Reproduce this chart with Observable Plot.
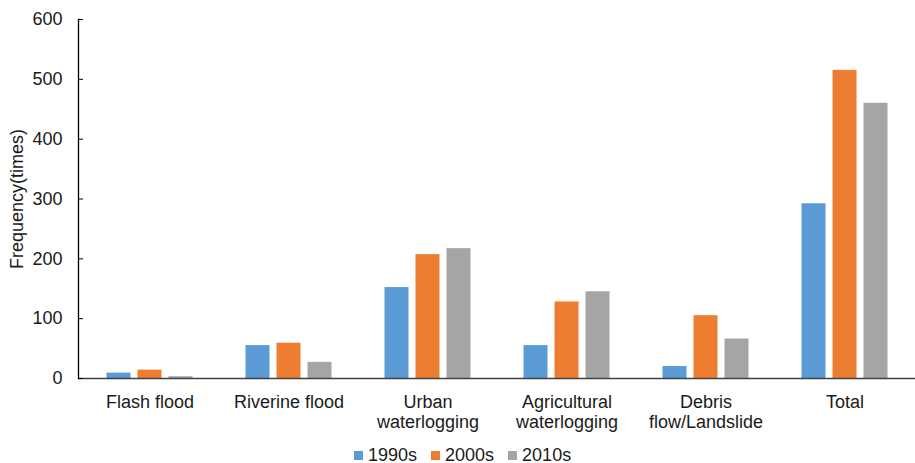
<!DOCTYPE html>
<html>
<head>
<meta charset="utf-8">
<script src="https://cdn.jsdelivr.net/npm/d3@7"></script>
<script src="https://cdn.jsdelivr.net/npm/@observablehq/plot@0.6"></script>
<style>
  body { margin: 0; background: #fff; font-family: "Liberation Sans", Arial, sans-serif; color: #1a1a1a; }
  #chart { width: 915px; }
  .legend { display: flex; align-items: center; height: 18px; padding-left: 354px; font-size: 18px; }
  .legend .item { display: flex; align-items: center; margin-right: 14px; }
  .legend .sw { width: 9px; height: 9px; margin-right: 5px; }
</style>
</head>
<body>
<div id="chart"></div>
<script>
// Flood disaster frequency by type and decade
const categories = ["Flash flood", "Riverine flood", "Urban waterlogging", "Agricultural waterlogging", "Debris flow/Landslide", "Total"];
const categoryLabels = ["Flash flood", "Riverine flood", "Urban\nwaterlogging", "Agricultural\nwaterlogging", "Debris\nflow/Landslide", "Total"];
const series = ["1990s", "2000s", "2010s"];
const colors = ["#5B9BD5", "#ED7D31", "#A5A5A5"];
const v1990s = [9, 55, 152, 55, 20, 292];
const v2000s = [14, 59, 207, 128, 105, 515];
const v2010s = [3, 27, 217, 145, 66, 460];
const yTicks = [0, 100, 200, 300, 400, 500, 600];

const valuesBySeries = [v1990s, v2000s, v2010s];
const rows = categories.flatMap((c, i) =>
  series.map((s, j) => ({category: c, series: s, value: valuesBySeries[j][i]}))
);

const chart = Plot.plot({
  width: 915,
  height: 446,
  marginLeft: 78,
  marginRight: 0,
  marginTop: 19,
  marginBottom: 68,
  style: {fontFamily: "'Liberation Sans', Arial, sans-serif", fontSize: "18px", color: "#1a1a1a", background: "#fff"},
  x: {domain: categories, padding: 0},
  y: {domain: [0, 600]},
  color: {domain: series, range: colors},
  marks: [
    // one bar mark per decade, offset inside each category band
    ...series.map((s, i) => Plot.barY(rows.filter(d => d.series === s), {
      x: "category",
      y: "value",
      fill: "series",
      insetLeft: 26.5 + 31 * i,
      insetRight: 88.5 - 31 * i
    })),
    Plot.ruleY([0], {stroke: "#404040", strokeWidth: 1.5}),
    Plot.frame({anchor: "left", stroke: "#000", strokeWidth: 1.3}),
    Plot.axisY({ticks: yTicks, tickSize: 5, dx: 5, tickFormat: () => "", label: null, stroke: "#000"}),
    Plot.axisY({ticks: yTicks, tickSize: 0, tickPadding: 16, label: null}),
    Plot.axisX({
      tickSize: 0,
      tickPadding: 15,
      lineHeight: 1.12,
      label: null,
      tickFormat: d => categoryLabels[categories.indexOf(d)]
    }),
    Plot.text(["Frequency(times)"], {
      frameAnchor: "left",
      rotate: -90,
      dx: -61,
      textAnchor: "middle",
      lineAnchor: "middle",
      fontSize: 18
    })
  ]
});

const root = document.getElementById("chart");
root.appendChild(chart);

const legend = document.createElement("div");
legend.className = "legend";
series.forEach((s, i) => {
  const item = document.createElement("div");
  item.className = "item";
  const sw = document.createElement("span");
  sw.className = "sw";
  sw.style.background = colors[i];
  const label = document.createElement("span");
  label.textContent = s;
  item.appendChild(sw);
  item.appendChild(label);
  legend.appendChild(item);
});
root.appendChild(legend);
</script>
</body>
</html>
